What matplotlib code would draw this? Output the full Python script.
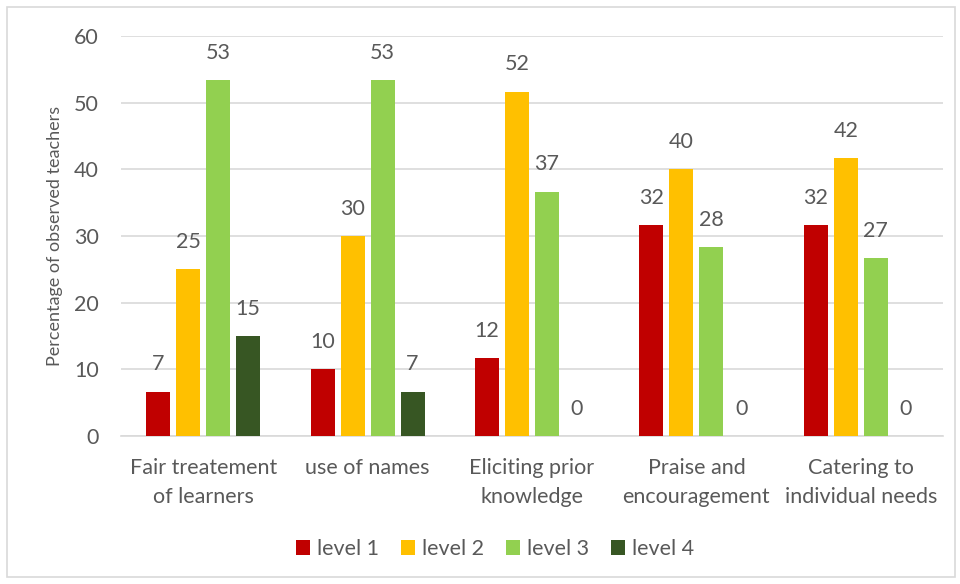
import numpy as np
import matplotlib.pyplot as plt
from matplotlib.patches import Rectangle

categories = ["Fair treatement\nof learners", "use of names", "Eliciting prior\nknowledge",
              "Praise and\nencouragement", "Catering to\nindividual needs"]
levels = ["level 1", "level 2", "level 3", "level 4"]
level1 = [6.67, 10.0, 11.67, 31.67, 31.67]
level2 = [25.0, 30.0, 51.67, 40.0, 41.67]
level3 = [53.33, 53.33, 36.67, 28.33, 26.67]
level4 = [15.0, 6.67, 0.0, 0.0, 0.0]
colors = ["#C00000", "#FFC000", "#92D050", "#375623"]

plt.rcParams['font.family'] = ['Lato', 'DejaVu Sans']
text_color = "#595959"
fs = 15.5

fig = plt.figure(figsize=(9.6, 5.84), dpi=100)
ax = fig.add_axes([121 / 960, 1 - 436 / 584, (943 - 121) / 960, 400 / 584])

x = np.arange(len(categories))
width = 0.146
pitch = 0.1825
for i, (vals, col, lab) in enumerate(zip([level1, level2, level3, level4], colors, levels)):
    pos = x + (i - 1.5) * pitch
    ax.bar(pos, vals, width, color=col, label=lab, zorder=3)
    for xp, v in zip(pos, vals):
        ax.text(xp, v + 2.6, f"{v:.0f}", ha='center', va='bottom',
                fontsize=fs, color=text_color)

ax.set_xlim(-0.5, len(categories) - 0.5)
ax.set_ylim(0, 60)
ax.set_yticks(range(0, 61, 10))
ax.yaxis.grid(True, color="#D9D9D9", linewidth=1.2, zorder=0)
ax.set_axisbelow(True)
for s in ["top", "right", "left"]:
    ax.spines[s].set_visible(False)
ax.spines["bottom"].set_color("#D9D9D9")
ax.spines["bottom"].set_linewidth(1.2)
ax.tick_params(axis='both', length=0, labelsize=fs, labelcolor=text_color)
ax.tick_params(axis='y', pad=16)
ax.tick_params(axis='x', pad=16)
ax.set_xticks(x)
ax.set_xticklabels(categories, linespacing=1.55)
ax.set_ylabel("Percentage of observed teachers", fontsize=13, color=text_color, labelpad=8)

ax.legend(loc='center', bbox_to_anchor=(495 / 960, 1 - 549 / 584), bbox_transform=fig.transFigure,
          ncol=4, frameon=False, fontsize=fs, labelcolor=text_color,
          handlelength=0.65, handleheight=0.65, handletextpad=0.35, columnspacing=1.0)

fig.patches.append(Rectangle((7 / 960, 7 / 584), 948 / 960, 570 / 584, transform=fig.transFigure,
                             fill=False, edgecolor="#D9D9D9", linewidth=1.2))

fig.savefig("out.png", dpi=100)
